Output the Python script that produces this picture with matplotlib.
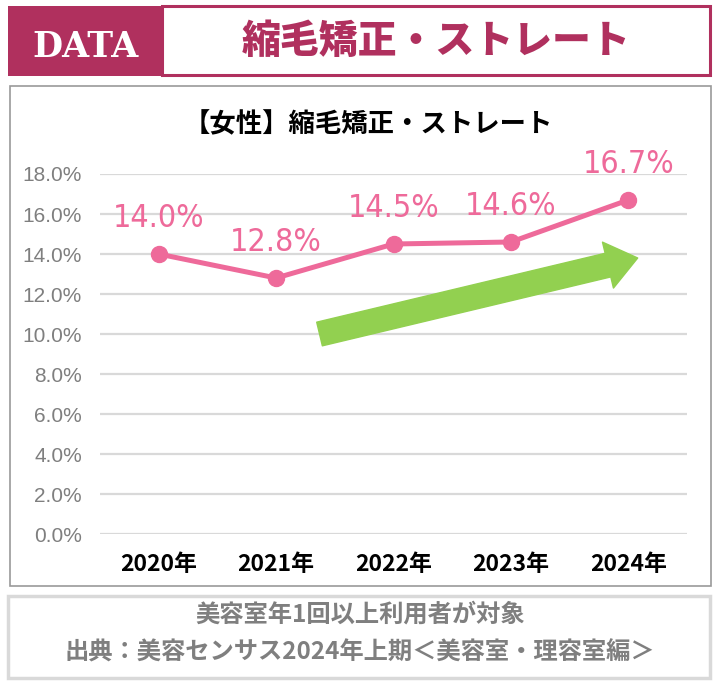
import numpy as np
import matplotlib.pyplot as plt
from matplotlib.patches import Rectangle
from matplotlib.ticker import MultipleLocator, FuncFormatter

# データ
years = ["2020年", "2021年", "2022年", "2023年", "2024年"]
rates = [0.140, 0.128, 0.145, 0.146, 0.167]
header_title = "縮毛矯正・ストレート"
chart_title = "【女性】縮毛矯正・ストレート"
note_lines = ["美容室年1回以上利用者が対象",
              "出典：美容センサス2024年上期＜美容室・理容室編＞"]

cjk = ["Noto Sans CJK JP", "DejaVu Sans"]
plt.rcParams['font.family'] = cjk

magenta = "#B0305E"
pink = "#EE6A9A"
green = "#92D050"
gray_txt = "#7F7F7F"

fig = plt.figure(figsize=(7.2, 6.85), dpi=100)

# 背景レイアウト用 (ピクセル座標)
bg = fig.add_axes([0, 0, 1, 1], zorder=0)
bg.set_xlim(0, 720)
bg.set_ylim(685, 0)
bg.axis('off')

# ヘッダー
bg.add_patch(Rectangle((8, 6), 154, 70, facecolor=magenta, edgecolor='none'))
bg.add_patch(Rectangle((162, 6), 548, 69, facecolor='white', edgecolor=magenta, lw=2.2))
bg.text(85, 47, "DATA", color='white', fontsize=25, fontweight='bold',
        family=['DejaVu Serif'], ha='center', va='center')
bg.text(436, 41, header_title, color=magenta, fontsize=28, fontweight='heavy',
        ha='center', va='center')

# グラフ枠
bg.add_patch(Rectangle((10, 86), 701, 500, facecolor='white', edgecolor='#999999', lw=1.2))
bg.text(368, 125, chart_title, color='black', fontsize=19, fontweight='bold',
        ha='center', va='center')

# 注記枠
bg.add_patch(Rectangle((8, 596), 702, 82, facecolor='white', edgecolor='#D9D9D9', lw=2.5))
bg.text(360, 615, note_lines[0], color=gray_txt, fontsize=17.5, fontweight='bold',
        ha='center', va='center')
bg.text(360, 653, note_lines[1], color=gray_txt, fontsize=17.5, fontweight='bold',
        ha='center', va='center')

# メイングラフ
ax = fig.add_axes([100/720, 1-534/685, 587/720, 360/685], zorder=1)
ax.patch.set_alpha(0)
x = np.arange(len(years))
ax.plot(x, rates, color=pink, lw=3.6, marker='o', markersize=11.5, zorder=3)
for i, v in zip(x, rates):
    ax.annotate(f"{v*100:.1f}%", (i, v), xytext=(0, 19.5), textcoords='offset points',
                ha='center', va='baseline', color=pink, fontsize=23,
                family=['DejaVu Sans'], fontstretch='condensed')

# 上昇トレンド矢印
ax.annotate("", xy=(4.08, 0.138), xytext=(1.37, 0.100),
            arrowprops=dict(arrowstyle="simple,head_length=2.2,head_width=3.4,tail_width=1.75",
                            mutation_scale=10, color=green, shrinkA=0, shrinkB=0),
            zorder=2)

ax.set_xlim(-0.5, len(years) - 0.5)
ax.set_ylim(0, 0.18)
ax.yaxis.set_major_locator(MultipleLocator(0.02))
ax.yaxis.set_major_formatter(FuncFormatter(lambda v, p: f"{v*100:.1f}%"))
ax.set_xticks(x)
ax.set_xticklabels(years, fontsize=16.5, fontweight='bold', color='black')
for lab in ax.get_yticklabels():
    lab.set_family(["Liberation Sans", "DejaVu Sans"])
    lab.set_fontsize(15)
    lab.set_color(gray_txt)
ax.tick_params(axis='y', length=0, pad=13)
ax.tick_params(axis='x', length=0, pad=14)
ax.grid(axis='y', color='#D9D9D9', lw=1.6)
ax.set_axisbelow(True)
for s in ax.spines.values():
    s.set_visible(False)

fig.savefig("out.png", dpi=100)
